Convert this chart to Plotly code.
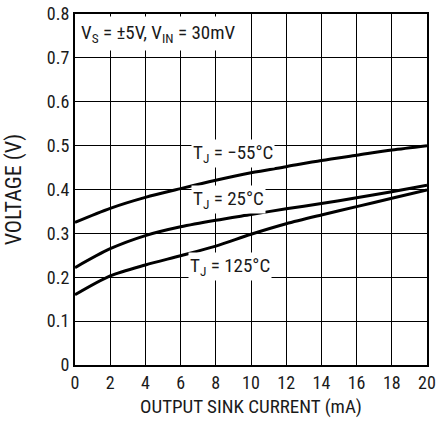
import plotly.graph_objects as go

current_ma = [0, 2, 4, 6, 8, 10, 12, 14, 16, 18, 20]
v_m55 = [0.325, 0.357, 0.382, 0.402, 0.421, 0.438, 0.452, 0.466, 0.478, 0.490, 0.500]
v_25 = [0.222, 0.265, 0.295, 0.315, 0.330, 0.343, 0.356, 0.368, 0.381, 0.395, 0.410]
v_125 = [0.160, 0.203, 0.228, 0.249, 0.271, 0.298, 0.322, 0.342, 0.361, 0.380, 0.399]

labels = ["T<sub>J</sub> = −55°C", "T<sub>J</sub> = 25°C", "T<sub>J</sub> = 125°C"]
label_x = [9.0, 8.7, 8.8]
label_y = [0.483, 0.377, 0.224]

x_ticks = [0, 2, 4, 6, 8, 10, 12, 14, 16, 18, 20]
y_ticks = [0, 0.1, 0.2, 0.3, 0.4, 0.5, 0.6, 0.7, 0.8]
y_tick_text = ["0", "0.1", "0.2", "0.3", "0.4", "0.5", "0.6", "0.7", "0.8"]

FONT = "Liberation Sans Narrow, Roboto Condensed, Arial Narrow, Liberation Sans, sans-serif"
TXT = "#1a1a1a"

fig = go.Figure()
for ys in (v_m55, v_25, v_125):
    fig.add_trace(go.Scatter(x=current_ma, y=ys, mode="lines",
                             line=dict(color="black", width=3, shape="spline", smoothing=0.8),
                             showlegend=False, hoverinfo="skip"))

for t, xx, yy in zip(labels, label_x, label_y):
    fig.add_annotation(x=xx, y=yy, text=t, showarrow=False, bgcolor="white",
                       font=dict(family=FONT, size=19, color=TXT), borderpad=1)

fig.add_annotation(x=0, y=0.8, xref="x", yref="y", xanchor="left", yanchor="top",
                   xshift=1, yshift=-2,
                   text="V<sub>S</sub> = ±5V, V<sub>IN</sub> = 30mV", showarrow=False,
                   bgcolor="white", font=dict(family=FONT, size=19, color=TXT), borderpad=4)

fig.update_layout(
    width=436, height=423,
    margin=dict(l=75, r=9, t=14, b=58, autoexpand=False),
    paper_bgcolor="white", plot_bgcolor="white",
    font=dict(family=FONT, size=16, color=TXT),
    xaxis=dict(range=[0, 20], tickvals=x_ticks, showgrid=True, gridcolor="black", gridwidth=1,
               showline=True, linecolor="black", linewidth=2, mirror=True, ticks="", zeroline=False,
               automargin=False,
               title=dict(text="OUTPUT SINK CURRENT (mA)", standoff=8,
                          font=dict(family=FONT, size=19, color=TXT)),
               tickfont=dict(family=FONT, size=18, color=TXT)),
    yaxis=dict(range=[0, 0.8], tickvals=y_ticks, ticktext=y_tick_text, showgrid=True, gridcolor="black", gridwidth=1,
               showline=True, linecolor="black", linewidth=2, mirror=True, ticks="", zeroline=False,
               automargin=False,
               title=dict(text="VOLTAGE (V)", standoff=19,
                          font=dict(family=FONT, size=22, color=TXT)),
               tickfont=dict(family=FONT, size=18, color=TXT)),
)

fig.write_html("out.html", config={"displayModeBar": False},
               post_script="document.body.style.margin='0';document.body.style.overflow='hidden';")
